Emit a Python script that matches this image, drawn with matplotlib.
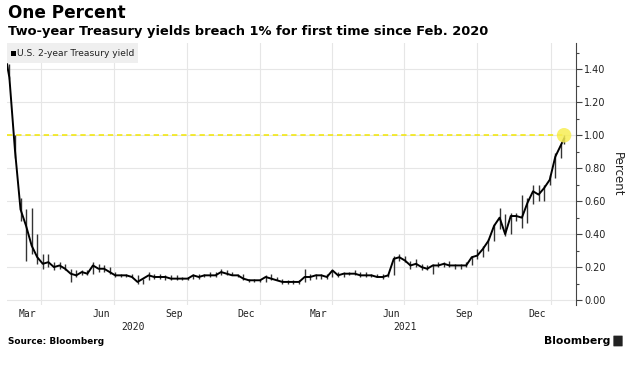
import matplotlib
matplotlib.use("Agg")
import matplotlib.pyplot as plt
import matplotlib.dates as mdates
import matplotlib.transforms as mtransforms
from matplotlib.patches import Rectangle, FancyBboxPatch
from matplotlib.ticker import NullFormatter, FormatStrFormatter, MultipleLocator
import numpy as np
import pandas as pd

# weekly readings (Friday), plus first and last day of the series
dates = (pd.to_datetime(["2020-02-18"])
         .append(pd.date_range("2020-02-21", "2022-01-14", freq="W-FRI"))
         .append(pd.to_datetime(["2022-01-18"])))

close = [1.43, 1.35, 0.91, 0.55, 0.45, 0.33, 0.26, 0.22, 0.23, 0.20,
         0.21, 0.19, 0.16, 0.15, 0.17, 0.16, 0.21, 0.19, 0.19, 0.17,
         0.15, 0.15, 0.15, 0.14, 0.11, 0.13, 0.15, 0.14, 0.14, 0.14,
         0.13, 0.13, 0.13, 0.13, 0.15, 0.14, 0.15, 0.15, 0.15, 0.17,
         0.16, 0.15, 0.15, 0.13, 0.12, 0.12, 0.12, 0.14, 0.13, 0.12,
         0.11, 0.11, 0.11, 0.11, 0.14, 0.14, 0.15, 0.15, 0.14, 0.18,
         0.15, 0.16, 0.16, 0.16, 0.15, 0.15, 0.15, 0.14, 0.14, 0.15,
         0.25, 0.26, 0.24, 0.21, 0.22, 0.20, 0.19, 0.21, 0.21, 0.22,
         0.21, 0.21, 0.21, 0.21, 0.26, 0.27, 0.31, 0.36, 0.45, 0.50,
         0.40, 0.51, 0.51, 0.50, 0.59, 0.66, 0.64, 0.68, 0.73, 0.87,
         0.94, 0.98]
high = [1.44, 1.43, 1.00, 0.62, 0.55, 0.56, 0.40, 0.28, 0.28, 0.23,
        0.23, 0.22, 0.19, 0.18, 0.18, 0.18, 0.23, 0.22, 0.21, 0.20,
        0.17, 0.16, 0.16, 0.16, 0.15, 0.13, 0.17, 0.16, 0.16, 0.15,
        0.15, 0.15, 0.14, 0.14, 0.16, 0.16, 0.16, 0.17, 0.17, 0.19,
        0.18, 0.17, 0.16, 0.16, 0.13, 0.13, 0.13, 0.15, 0.16, 0.14,
        0.13, 0.12, 0.12, 0.12, 0.19, 0.16, 0.16, 0.16, 0.16, 0.18,
        0.17, 0.17, 0.17, 0.18, 0.17, 0.17, 0.16, 0.16, 0.16, 0.16,
        0.27, 0.28, 0.27, 0.24, 0.25, 0.22, 0.21, 0.22, 0.23, 0.23,
        0.24, 0.22, 0.22, 0.23, 0.27, 0.31, 0.33, 0.37, 0.46, 0.56,
        0.52, 0.53, 0.53, 0.64, 0.62, 0.70, 0.70, 0.70, 0.76, 0.89,
        0.95, 1.00]
low = [1.41, 1.34, 0.86, 0.48, 0.24, 0.28, 0.22, 0.19, 0.20, 0.18,
       0.19, 0.18, 0.11, 0.14, 0.15, 0.15, 0.16, 0.17, 0.17, 0.16,
       0.14, 0.14, 0.14, 0.14, 0.10, 0.10, 0.12, 0.13, 0.13, 0.12,
       0.12, 0.12, 0.12, 0.12, 0.13, 0.13, 0.14, 0.14, 0.14, 0.15,
       0.15, 0.15, 0.14, 0.12, 0.11, 0.11, 0.11, 0.11, 0.12, 0.12,
       0.10, 0.10, 0.10, 0.10, 0.11, 0.12, 0.13, 0.13, 0.13, 0.14,
       0.14, 0.14, 0.15, 0.15, 0.14, 0.14, 0.14, 0.14, 0.13, 0.14,
       0.15, 0.24, 0.23, 0.19, 0.20, 0.18, 0.18, 0.16, 0.20, 0.20,
       0.20, 0.19, 0.19, 0.20, 0.21, 0.25, 0.26, 0.30, 0.36, 0.43,
       0.39, 0.40, 0.48, 0.44, 0.47, 0.58, 0.60, 0.60, 0.70, 0.74,
       0.86, 0.95]

threshold = 1.00
y_ticks = [0.00, 0.20, 0.40, 0.60, 0.80, 1.00, 1.20, 1.40]
x_start = pd.Timestamp("2020-02-18")
x_end = pd.Timestamp("2022-02-02")

W, H = 633, 365
fig = plt.figure(figsize=(W / 100, H / 100), dpi=100)
fig.patch.set_facecolor("white")

# axes box in pixels: x 7..576, y 43..305
ax = fig.add_axes([7 / W, 1 - 305 / H, 569 / W, 262 / H])
ax.set_xlim(x_start, x_end)
ax.set_ylim(-0.03, 1.56)

# the series: weekly range bars and closing line
ax.vlines(dates, low, high, color="#333333", lw=1.0, zorder=3)
ax.plot(dates, close, color="black", lw=1.4, zorder=4)

# 1% line and marker
ax.hlines(threshold, x_start, dates[-1], color="#f2e600", lw=1.1,
          linestyles=(0, (3.5, 2.5)), zorder=2)
ax.scatter([dates[-1]], [threshold], s=110, color="#f7ee55", alpha=0.85,
           edgecolors="none", zorder=5)

# y axis on the right
ax.yaxis.tick_right()
ax.set_yticks(y_ticks)
ax.yaxis.set_minor_locator(MultipleLocator(0.1))
ax.yaxis.set_major_formatter(FormatStrFormatter("%.2f"))
ax.tick_params(axis="y", which="major", length=4, width=0.8, color="#444444",
               labelsize=7, labelcolor="#222222", pad=2)
ax.tick_params(axis="y", which="minor", length=2, width=0.8, color="#444444")
ax.set_ylabel("Percent", rotation=270, fontsize=8.5, color="#222222", labelpad=13)
ax.yaxis.set_label_position("right")

# x axis: gridlines at quarter starts, labels mid-month
ax.xaxis.set_major_locator(mdates.MonthLocator(bymonth=[1, 4, 7, 10], bymonthday=1))
ax.xaxis.set_major_formatter(NullFormatter())
ax.xaxis.set_minor_locator(mdates.MonthLocator(bymonth=[3, 6, 9, 12], bymonthday=15))
ax.xaxis.set_minor_formatter(mdates.DateFormatter("%b"))
ax.tick_params(axis="x", which="both", length=0, pad=3)
for lab in ax.get_xticklabels(minor=True):
    lab.set_fontfamily("DejaVu Sans Mono")
    lab.set_fontsize(7)
    lab.set_color("#222222")

ax.grid(True, which="major", axis="both", color="#e6e6e6", lw=0.8, zorder=0)
ax.set_axisbelow(True)
for s in ["top", "left", "bottom"]:
    ax.spines[s].set_visible(False)
ax.spines["right"].set_color("#444444")
ax.spines["right"].set_linewidth(0.8)

# year labels, centred on the visible part of each year
trans = mtransforms.blended_transform_factory(ax.transData, ax.transAxes)
y2020 = x_start + (pd.Timestamp("2021-01-01") - x_start) / 2
y2021 = pd.Timestamp("2021-01-01") + (pd.Timestamp("2022-01-01") - pd.Timestamp("2021-01-01")) / 2
for d, t in [(y2020, "2020"), (y2021, "2021")]:
    ax.text(d, -0.085, t, transform=trans, ha="center", va="center",
            fontsize=7, family="DejaVu Sans Mono", color="#222222")

# legend box
fig.patches.append(Rectangle((7 / W, 1 - 63 / H), 131 / W, 20 / H,
                             transform=fig.transFigure, facecolor="#efefef",
                             edgecolor="none", zorder=1))
fig.patches.append(Rectangle((11 / W, 1 - 56 / H), 5 / W, 5 / H,
                             transform=fig.transFigure, facecolor="black",
                             edgecolor="none", zorder=2))
fig.text(17 / W, 1 - 53 / H, "U.S. 2-year Treasury yield", fontsize=6.6,
         color="#222222", va="center", ha="left")

# titles and footer
fig.text(8 / W, 1 - 13 / H, "One Percent", fontsize=12.2, fontweight="bold",
         va="center", ha="left", color="black")
fig.text(8 / W, 1 - 32 / H, "Two-year Treasury yields breach 1% for first time since Feb. 2020",
         fontsize=9.4, fontweight="bold", va="center", ha="left", color="black")
fig.text(8 / W, 1 - 342 / H, "Source: Bloomberg", fontsize=6.4, fontweight="bold",
         va="center", ha="left", color="black")
fig.text(610 / W, 1 - 341 / H, "Bloomberg", fontsize=7.8, fontweight="bold",
         va="center", ha="right", color="black")
fig.patches.append(FancyBboxPatch((614 / W, 1 - 346 / H), 8 / W, 10 / H,
                                  boxstyle="round,pad=0.001",
                                  transform=fig.transFigure, facecolor="#222222",
                                  edgecolor="none"))

fig.savefig("out.png", dpi=100)
